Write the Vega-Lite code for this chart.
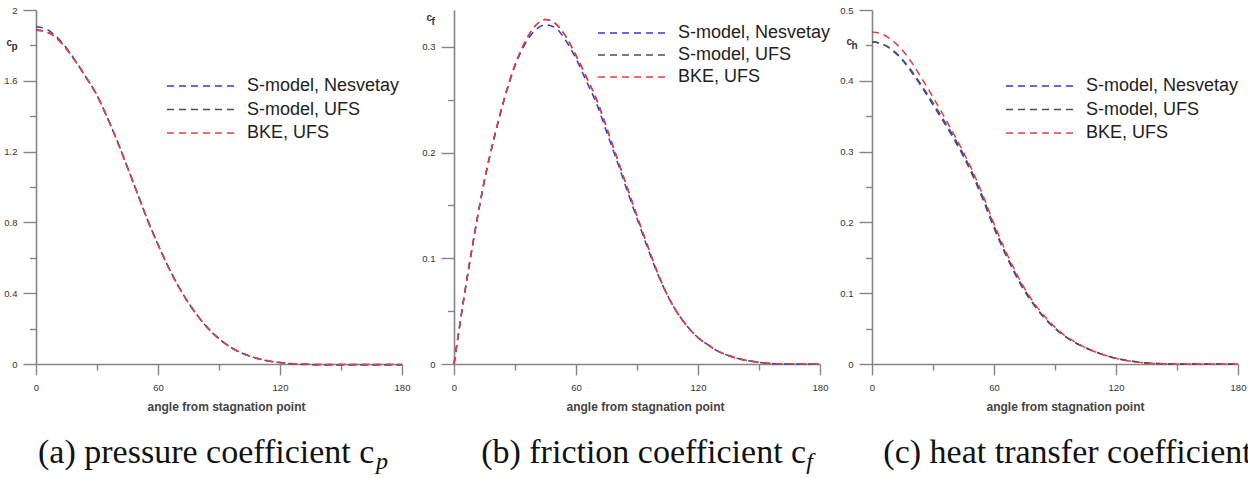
{
  "$schema": "https://vega.github.io/schema/vega-lite/v6.json",
  "background": "white",
  "padding": {"left": 3, "top": 5, "right": 0, "bottom": 0},
  "spacing": 52,
  "bounds": "flush",
  "config": {
    "view": {"stroke": null},
    "font": "Liberation Sans",
    "axis": {
      "grid": false,
      "domainColor": "#858585",
      "domainWidth": 1.6,
      "tickColor": "#858585",
      "tickWidth": 1.4,
      "labelFont": "Liberation Sans",
      "labelFontSize": 9.5,
      "labelColor": "#333333",
      "labelOverlap": false,
      "labelFlush": false,
      "titleFont": "Liberation Sans",
      "titleColor": "#333333"
    },
    "legend": {
      "orient": "none",
      "title": null,
      "padding": 0,
      "symbolType": "M-7,0H7",
      "symbolSize": 100,
      "symbolStrokeWidth": 1.5,
      "symbolDash": [7, 5],
      "labelFont": "Liberation Sans",
      "labelFontSize": 18,
      "labelColor": "#222222",
      "labelOffset": 36,
      "labelLimit": 300,
      "rowPadding": 5.5
    },
    "title": {
      "orient": "bottom",
      "anchor": "middle",
      "frame": "group",
      "offset": 23,
      "font": "Liberation Serif",
      "fontSize": 34,
      "fontWeight": "normal",
      "color": "#111111",
      "subtitleFont": "Liberation Serif",
      "subtitleFontSize": 24,
      "subtitleFontStyle": "italic",
      "subtitleColor": "#111111",
      "subtitlePadding": -20
    }
  },
  "datasets": {
    "cp": [
      {"angle": 0, "nes": 1.905, "sufs": 1.888, "bke": 1.886},
      {"angle": 5, "nes": 1.893, "sufs": 1.878, "bke": 1.876},
      {"angle": 10, "nes": 1.85, "sufs": 1.843, "bke": 1.842},
      {"angle": 15, "nes": 1.785, "sufs": 1.78, "bke": 1.78},
      {"angle": 20, "nes": 1.702, "sufs": 1.7, "bke": 1.7},
      {"angle": 25, "nes": 1.613, "sufs": 1.613, "bke": 1.613},
      {"angle": 30, "nes": 1.518, "sufs": 1.518, "bke": 1.518},
      {"angle": 35, "nes": 1.394, "sufs": 1.394, "bke": 1.394},
      {"angle": 40, "nes": 1.258, "sufs": 1.258, "bke": 1.258},
      {"angle": 45, "nes": 1.11, "sufs": 1.11, "bke": 1.11},
      {"angle": 50, "nes": 0.96, "sufs": 0.96, "bke": 0.96},
      {"angle": 55, "nes": 0.81, "sufs": 0.81, "bke": 0.81},
      {"angle": 60, "nes": 0.675, "sufs": 0.675, "bke": 0.675},
      {"angle": 65, "nes": 0.55, "sufs": 0.55, "bke": 0.55},
      {"angle": 70, "nes": 0.44, "sufs": 0.44, "bke": 0.44},
      {"angle": 75, "nes": 0.345, "sufs": 0.345, "bke": 0.345},
      {"angle": 80, "nes": 0.265, "sufs": 0.265, "bke": 0.265},
      {"angle": 85, "nes": 0.197, "sufs": 0.197, "bke": 0.197},
      {"angle": 90, "nes": 0.143, "sufs": 0.143, "bke": 0.143},
      {"angle": 95, "nes": 0.1, "sufs": 0.1, "bke": 0.1},
      {"angle": 100, "nes": 0.068, "sufs": 0.068, "bke": 0.068},
      {"angle": 105, "nes": 0.045, "sufs": 0.045, "bke": 0.045},
      {"angle": 110, "nes": 0.028, "sufs": 0.028, "bke": 0.028},
      {"angle": 115, "nes": 0.016, "sufs": 0.016, "bke": 0.016},
      {"angle": 120, "nes": 0.008, "sufs": 0.008, "bke": 0.008},
      {"angle": 125, "nes": 0.002, "sufs": 0.003, "bke": 0.003},
      {"angle": 130, "nes": -0.002, "sufs": 0.0, "bke": 0.0},
      {"angle": 135, "nes": -0.004, "sufs": -0.002, "bke": -0.002},
      {"angle": 140, "nes": -0.005, "sufs": -0.003, "bke": -0.003},
      {"angle": 150, "nes": -0.005, "sufs": -0.003, "bke": -0.003},
      {"angle": 160, "nes": -0.005, "sufs": -0.003, "bke": -0.003},
      {"angle": 170, "nes": -0.005, "sufs": -0.003, "bke": -0.003},
      {"angle": 180, "nes": -0.005, "sufs": -0.003, "bke": -0.003}
    ],
    "cf": [
      {"angle": 0, "nes": 0.0, "sufs": 0.0, "bke": 0.0},
      {"angle": 5, "nes": 0.064, "sufs": 0.064, "bke": 0.064},
      {"angle": 10, "nes": 0.122, "sufs": 0.122, "bke": 0.122},
      {"angle": 15, "nes": 0.174, "sufs": 0.174, "bke": 0.174},
      {"angle": 20, "nes": 0.216, "sufs": 0.216, "bke": 0.216},
      {"angle": 25, "nes": 0.252, "sufs": 0.253, "bke": 0.253},
      {"angle": 30, "nes": 0.282, "sufs": 0.283, "bke": 0.283},
      {"angle": 35, "nes": 0.303, "sufs": 0.305, "bke": 0.305},
      {"angle": 40, "nes": 0.316, "sufs": 0.32, "bke": 0.32},
      {"angle": 45, "nes": 0.321, "sufs": 0.326, "bke": 0.326},
      {"angle": 50, "nes": 0.318, "sufs": 0.322, "bke": 0.322},
      {"angle": 55, "nes": 0.306, "sufs": 0.31, "bke": 0.31},
      {"angle": 60, "nes": 0.289, "sufs": 0.292, "bke": 0.292},
      {"angle": 65, "nes": 0.268, "sufs": 0.272, "bke": 0.272},
      {"angle": 70, "nes": 0.247, "sufs": 0.251, "bke": 0.251},
      {"angle": 75, "nes": 0.22, "sufs": 0.224, "bke": 0.224},
      {"angle": 80, "nes": 0.193, "sufs": 0.196, "bke": 0.196},
      {"angle": 85, "nes": 0.165, "sufs": 0.168, "bke": 0.168},
      {"angle": 90, "nes": 0.138, "sufs": 0.14, "bke": 0.14},
      {"angle": 95, "nes": 0.111, "sufs": 0.113, "bke": 0.113},
      {"angle": 100, "nes": 0.086, "sufs": 0.087, "bke": 0.087},
      {"angle": 105, "nes": 0.065, "sufs": 0.065, "bke": 0.065},
      {"angle": 110, "nes": 0.048, "sufs": 0.048, "bke": 0.048},
      {"angle": 115, "nes": 0.035, "sufs": 0.035, "bke": 0.035},
      {"angle": 120, "nes": 0.025, "sufs": 0.025, "bke": 0.025},
      {"angle": 125, "nes": 0.018, "sufs": 0.018, "bke": 0.018},
      {"angle": 130, "nes": 0.012, "sufs": 0.012, "bke": 0.012},
      {"angle": 135, "nes": 0.008, "sufs": 0.008, "bke": 0.008},
      {"angle": 140, "nes": 0.005, "sufs": 0.005, "bke": 0.005},
      {"angle": 145, "nes": 0.003, "sufs": 0.003, "bke": 0.003},
      {"angle": 150, "nes": 0.0015, "sufs": 0.0015, "bke": 0.0015},
      {"angle": 155, "nes": 0.0006, "sufs": 0.0006, "bke": 0.0006},
      {"angle": 160, "nes": 0.0002, "sufs": 0.0002, "bke": 0.0002},
      {"angle": 170, "nes": 0.0, "sufs": 0.0, "bke": 0.0},
      {"angle": 180, "nes": 0.0, "sufs": 0.0, "bke": 0.0}
    ],
    "ch": [
      {"angle": 0, "nes": 0.455, "sufs": 0.455, "bke": 0.469},
      {"angle": 5, "nes": 0.452, "sufs": 0.452, "bke": 0.466},
      {"angle": 10, "nes": 0.443, "sufs": 0.444, "bke": 0.457},
      {"angle": 15, "nes": 0.429, "sufs": 0.43, "bke": 0.443},
      {"angle": 20, "nes": 0.41, "sufs": 0.412, "bke": 0.424},
      {"angle": 25, "nes": 0.389, "sufs": 0.391, "bke": 0.401},
      {"angle": 30, "nes": 0.366, "sufs": 0.369, "bke": 0.377},
      {"angle": 35, "nes": 0.343, "sufs": 0.346, "bke": 0.352},
      {"angle": 40, "nes": 0.319, "sufs": 0.322, "bke": 0.326},
      {"angle": 45, "nes": 0.293, "sufs": 0.296, "bke": 0.299},
      {"angle": 50, "nes": 0.263, "sufs": 0.266, "bke": 0.269},
      {"angle": 55, "nes": 0.229, "sufs": 0.232, "bke": 0.235},
      {"angle": 60, "nes": 0.192, "sufs": 0.195, "bke": 0.198},
      {"angle": 65, "nes": 0.159, "sufs": 0.161, "bke": 0.164},
      {"angle": 70, "nes": 0.129, "sufs": 0.131, "bke": 0.134},
      {"angle": 75, "nes": 0.103, "sufs": 0.105, "bke": 0.107},
      {"angle": 80, "nes": 0.082, "sufs": 0.083, "bke": 0.085},
      {"angle": 85, "nes": 0.064, "sufs": 0.065, "bke": 0.067},
      {"angle": 90, "nes": 0.05, "sufs": 0.051, "bke": 0.052},
      {"angle": 95, "nes": 0.039, "sufs": 0.039, "bke": 0.04},
      {"angle": 100, "nes": 0.03, "sufs": 0.03, "bke": 0.031},
      {"angle": 105, "nes": 0.023, "sufs": 0.023, "bke": 0.023},
      {"angle": 110, "nes": 0.017, "sufs": 0.017, "bke": 0.017},
      {"angle": 115, "nes": 0.012, "sufs": 0.012, "bke": 0.012},
      {"angle": 120, "nes": 0.008, "sufs": 0.008, "bke": 0.008},
      {"angle": 125, "nes": 0.005, "sufs": 0.005, "bke": 0.005},
      {"angle": 130, "nes": 0.003, "sufs": 0.003, "bke": 0.003},
      {"angle": 135, "nes": 0.0015, "sufs": 0.0015, "bke": 0.0015},
      {"angle": 140, "nes": 0.0007, "sufs": 0.0007, "bke": 0.0007},
      {"angle": 145, "nes": 0.0002, "sufs": 0.0002, "bke": 0.0002},
      {"angle": 150, "nes": 0.0, "sufs": 0.0, "bke": 0.0},
      {"angle": 165, "nes": 0.0, "sufs": 0.0, "bke": 0.0},
      {"angle": 180, "nes": 0.0, "sufs": 0.0, "bke": 0.0}
    ]
  },
  "hconcat": [
    {
      "width": 366,
      "height": 354,
      "data": {"name": "cp"},
      "transform": [{"fold": ["nes", "sufs", "bke"], "as": ["series", "value"]}],
      "title": {"text": "(a) pressure coefficient c\u2009\u2009\u200b", "subtitle": "p", "align": "right", "dx": 169},
      "mark": {"type": "line", "interpolate": "monotone", "strokeDash": [7, 5], "strokeWidth": 1.5},
      "encoding": {
        "x": {
          "field": "angle", "type": "quantitative",
          "scale": {"domain": [0, 180], "nice": false, "zero": false},
          "axis": {
            "values": [0, 30, 60, 90, 120, 150, 180],
            "format": "d",
            "labelExpr": "datum.value % 60 === 0 ? datum.label : ''",
            "tickSize": {"condition": {"test": "datum.value % 60 === 0", "value": 11}, "value": 6},
            "labelPadding": 7,
            "title": "angle from stagnation point",
            "titleFontSize": 12,
            "titleFontWeight": "bold",
            "titleColor": "#444444",
            "titlePadding": 10,
            "titleX": 190
          }
        },
        "y": {
          "field": "value", "type": "quantitative",
          "scale": {"domain": [0, 2], "nice": false, "zero": false},
          "axis": {
            "values": [0, 0.2, 0.4, 0.6, 0.8, 1, 1.2, 1.4, 1.6, 1.8, 2],
            "format": "~g",
            "labelExpr": "round(datum.value * 10) % 4 === 0 ? datum.label : ''",
            "tickSize": {"condition": {"test": "round(datum.value * 10) % 4 === 0", "value": 13}, "value": 6.5},
            "labelPadding": 6,
            "title": ["c", "\u200b\u2002p"],
            "titleAngle": 0,
            "titleAlign": "left",
            "titleBaseline": "alphabetic",
            "titleX": -30,
            "titleY": 35,
            "titleFontSize": 10,
            "titleFontWeight": "bold",
            "titleLineHeight": 4
          }
        },
        "color": {
          "field": "series", "type": "nominal",
          "scale": {"domain": ["nes", "sufs", "bke"], "range": ["#3636e2", "#505050", "#f03c3c"]},
          "legend": {
            "legendX": 157, "legendY": 67,
            "labelExpr": "datum.label === 'nes' ? 'S-model, Nesvetay' : datum.label === 'sufs' ? 'S-model, UFS' : 'BKE, UFS'"
          }
        }
      }
    },
    {
      "width": 366,
      "height": 354,
      "data": {"name": "cf"},
      "transform": [{"fold": ["nes", "sufs", "bke"], "as": ["series", "value"]}],
      "title": {"text": "(b) friction coefficient c\u2009\u200b", "subtitle": "f", "align": "right", "dx": 176},
      "mark": {"type": "line", "interpolate": "monotone", "strokeDash": [7, 5], "strokeWidth": 1.5},
      "encoding": {
        "x": {
          "field": "angle", "type": "quantitative",
          "scale": {"domain": [0, 180], "nice": false, "zero": false},
          "axis": {
            "values": [0, 30, 60, 90, 120, 150, 180],
            "format": "d",
            "labelExpr": "datum.value % 60 === 0 ? datum.label : ''",
            "tickSize": {"condition": {"test": "datum.value % 60 === 0", "value": 11}, "value": 6},
            "labelPadding": 7,
            "title": "angle from stagnation point",
            "titleFontSize": 12,
            "titleFontWeight": "bold",
            "titleColor": "#444444",
            "titlePadding": 10,
            "titleX": 191
          }
        },
        "y": {
          "field": "value", "type": "quantitative",
          "scale": {"domain": [0, 0.335], "nice": false, "zero": false},
          "axis": {
            "values": [0, 0.05, 0.1, 0.15, 0.2, 0.25, 0.3],
            "format": "~g",
            "labelExpr": "round(datum.value * 100) % 10 === 0 ? datum.label : ''",
            "tickSize": {"condition": {"test": "round(datum.value * 100) % 10 === 0", "value": 13}, "value": 6.5},
            "labelPadding": 6,
            "title": ["c", "\u200b\u2002f"],
            "titleAngle": 0,
            "titleAlign": "left",
            "titleBaseline": "alphabetic",
            "titleX": -28,
            "titleY": 10,
            "titleFontSize": 10,
            "titleFontWeight": "bold",
            "titleLineHeight": 4
          }
        },
        "color": {
          "field": "series", "type": "nominal",
          "scale": {"domain": ["nes", "sufs", "bke"], "range": ["#3636e2", "#505050", "#f03c3c"]},
          "legend": {
            "legendX": 170, "legendY": 14, "rowPadding": 4,
            "labelExpr": "datum.label === 'nes' ? 'S-model, Nesvetay' : datum.label === 'sufs' ? 'S-model, UFS' : 'BKE, UFS'"
          }
        }
      }
    },
    {
      "width": 366,
      "height": 354,
      "data": {"name": "ch"},
      "transform": [{"fold": ["nes", "sufs", "bke"], "as": ["series", "value"]}],
      "title": {"text": "(c) heat transfer coefficient c\u2009\u2009\u200b", "subtitle": "h", "align": "right", "dx": 234},
      "mark": {"type": "line", "interpolate": "monotone", "strokeDash": [7, 5], "strokeWidth": 1.5},
      "encoding": {
        "x": {
          "field": "angle", "type": "quantitative",
          "scale": {"domain": [0, 180], "nice": false, "zero": false},
          "axis": {
            "values": [0, 30, 60, 90, 120, 150, 180],
            "format": "d",
            "labelExpr": "datum.value % 60 === 0 ? datum.label : ''",
            "tickSize": {"condition": {"test": "datum.value % 60 === 0", "value": 11}, "value": 6},
            "labelPadding": 7,
            "title": "angle from stagnation point",
            "titleFontSize": 12,
            "titleFontWeight": "bold",
            "titleColor": "#444444",
            "titlePadding": 10,
            "titleX": 193
          }
        },
        "y": {
          "field": "value", "type": "quantitative",
          "scale": {"domain": [0, 0.5], "nice": false, "zero": false},
          "axis": {
            "values": [0, 0.05, 0.1, 0.15, 0.2, 0.25, 0.3, 0.35, 0.4, 0.45, 0.5],
            "format": "~g",
            "labelExpr": "round(datum.value * 100) % 10 === 0 ? datum.label : ''",
            "tickSize": {"condition": {"test": "round(datum.value * 100) % 10 === 0", "value": 13}, "value": 6.5},
            "labelPadding": 6,
            "title": ["c", "\u200b\u2002h"],
            "titleAngle": 0,
            "titleAlign": "left",
            "titleBaseline": "alphabetic",
            "titleX": -26,
            "titleY": 34,
            "titleFontSize": 10,
            "titleFontWeight": "bold",
            "titleLineHeight": 4
          }
        },
        "color": {
          "field": "series", "type": "nominal",
          "scale": {"domain": ["nes", "sufs", "bke"], "range": ["#3636e2", "#505050", "#f03c3c"]},
          "legend": {
            "legendX": 160, "legendY": 67,
            "labelExpr": "datum.label === 'nes' ? 'S-model, Nesvetay' : datum.label === 'sufs' ? 'S-model, UFS' : 'BKE, UFS'"
          }
        }
      }
    }
  ],
  "resolve": {"scale": {"color": "independent"}, "legend": {"color": "independent"}}
}
